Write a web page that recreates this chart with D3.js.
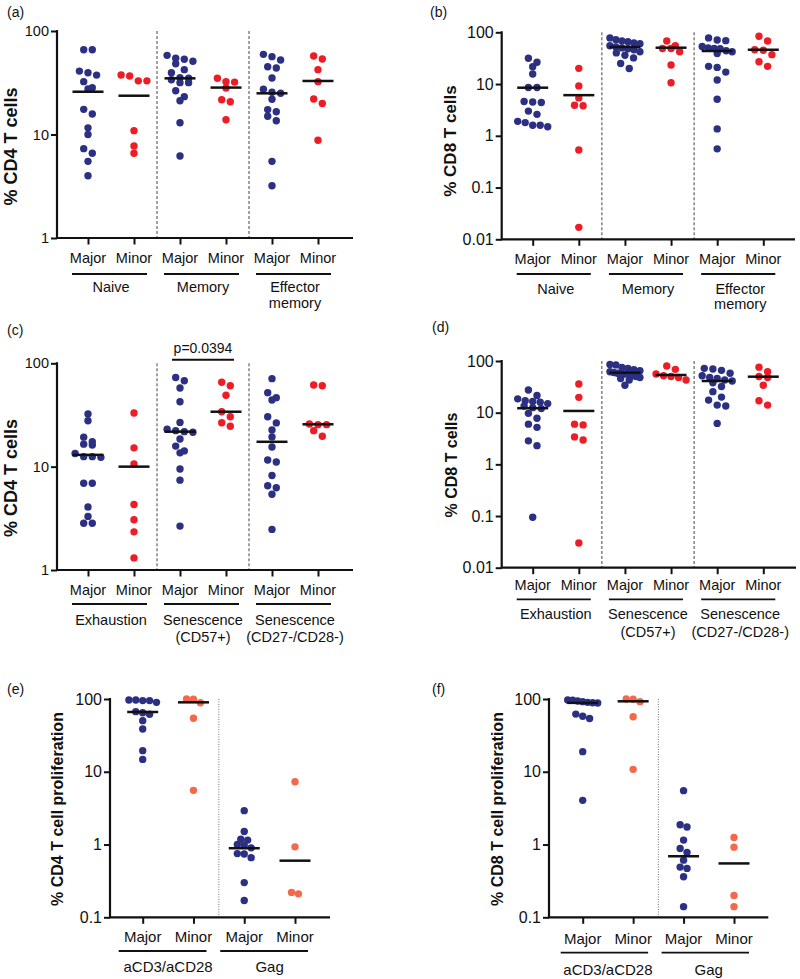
<!DOCTYPE html>
<html><head><meta charset="utf-8">
<script src="https://cdn.jsdelivr.net/npm/d3@7"></script>
<style>
body{margin:0;background:#fff}
svg{display:block}
text{font-family:"Liberation Sans",Arial,Helvetica,sans-serif;fill:#111}
</style>
</head><body>
<svg id="chart" width="800" height="979"></svg>
<script>
// ---------------- DATA ----------------
const subLabels = ["Major", "Minor"];
const groupsAB = [["Naive"], ["Memory"], ["Effector", "memory"]];
const groupsCD = [["Exhaustion"], ["Senescence", "(CD57+)"], ["Senescence", "(CD27-/CD28-)"]];
const groupsEF = [["aCD3/aCD28"], ["Gag"]];

// (a) % CD4 T cells
const a_points = [
  [66, 66, 41, 39.5, 37.5, 32.4, 28.3, 27.5, 17.5, 15.8, 11.6, 10.0, 7.3, 6.6, 5.5, 4.0],
  [37.6, 36.7, 33, 33, 10.9, 7.75, 6.6],
  [58.2, 54.5, 53.3, 51, 48.3, 42.3, 39.6, 35.4, 34.9, 33.8, 31.7, 31.7, 26.5, 23.2, 21.2, 13.0, 6.2],
  [34.9, 32.4, 32.1, 28.1, 21.7, 20.7, 13.9],
  [59.5, 56.5, 52.5, 45.2, 43.9, 35.2, 27.4, 25.6, 25.0, 21.9, 17.4, 16.6, 15.0, 13.6, 5.5, 3.2],
  [57.3, 53.6, 42.3, 32.4, 22, 19.9, 8.8]
];
const a_centre = [25.9, 23.7, 34.9, 28.4, 25.0, 32.9];

// (b) % CD8 T cells
const b_points = [
  [31.5, 26.3, 21.6, 15.6, 8.6, 8.6, 4.6, 4.5, 4.4, 3.0, 2.6, 1.9, 1.8, 1.6, 1.6, 1.5],
  [20.1, 9.2, 5.4, 3.9, 3.8, 0.53, 0.017],
  [78, 72, 68, 66, 62, 60, 55, 52, 50, 48, 46, 42, 40, 36, 32, 25, 20],
  [68, 55, 48.5, 48.5, 42, 23.3, 10.6],
  [78, 71, 69, 53, 50, 49, 48, 44, 42, 39, 22, 21, 17, 12, 5.1, 1.36, 0.56],
  [84, 68, 46, 45, 37, 27, 22]
];
const b_centre = [8.5, 6.1, 52, 50.4, 43.5, 46];

// (c) % CD4 T cells
const c_points = [
  [32.3, 27.8, 19.3, 17.4, 16.5, 16.2, 13.4, 12.5, 12.5, 12.3, 6.9, 6.9, 4.07, 3.3, 2.83, 2.83],
  [33, 15.2, 10.6, 4.3, 3.06, 2.34, 1.31],
  [73, 67.9, 57.6, 42.5, 26.8, 23, 22.3, 21.8, 21.5, 18.5, 15.8, 14.2, 13.6, 9.5, 7.4, 2.66],
  [65.5, 60.7, 49, 34, 30.4, 26.6, 24.6],
  [71, 52, 46.5, 44.2, 30.4, 26.5, 22.6, 19.4, 15.5, 11.6, 11.1, 8.2, 6.54, 6.24, 5.4, 2.47],
  [61.7, 60.7, 25.9, 25.5, 25.5, 22.3, 19.7]
];
const c_centre = [13.0, 10.0, 21.8, 34.0, 17.4, 25.7];

// (d) % CD8 T cells
const d_points = [
  [27.5, 21.5, 18.5, 17, 16.5, 16, 15, 13.5, 12.5, 12, 9.7, 7.8, 6.0, 5.2, 2.85, 2.3, 0.095],
  [35.9, 19.8, 6.0, 5.8, 3.4, 2.95, 0.030],
  [86, 84, 75, 72, 68, 65, 62, 60, 58, 58, 56, 55, 52, 50, 48, 46, 43, 34],
  [80, 69, 56, 52, 50, 48, 43],
  [72, 70, 66, 58, 52, 48, 46, 43, 41, 38, 32, 25.5, 20, 17.5, 14, 13.5, 6.2],
  [76, 62, 50, 48, 34, 17, 14]
];
const d_centre = [12.2, 10.8, 59.4, 53.6, 41, 49.7];

// (e) % CD4 T cell proliferation
const e_points = [
  [97, 97, 95, 95, 90, 67, 64.8, 61.6, 50.4, 38.7, 19.5, 14.8],
  [100, 99, 89, 54.3, 5.55],
  [2.92, 1.51, 1.18, 1.15, 1.0, 0.98, 0.9, 0.75, 0.74, 0.66, 0.30, 0.17],
  [7.3, 0.93, 0.22, 0.21]
];
const e_centre = [66.3, 90, 0.89, 0.60];

// (f) % CD8 T cell proliferation
const f_points = [
  [97, 96, 94, 92, 90, 89, 88, 62, 58, 54, 18.9, 4.05],
  [100, 99, 92, 57, 10.8],
  [5.5, 1.87, 1.74, 1.15, 0.88, 0.78, 0.61, 0.49, 0.47, 0.36, 0.14],
  [1.25, 0.92, 0.20, 0.14]
];
const f_centre = [88.5, 93, 0.69, 0.55];

const ticksAC = [1, 10, 100];
const ticksBD = [0.01, 0.1, 1, 10, 100];
const ticksEF = [0.1, 1, 10, 100];

// ---------------- LAYOUT ----------------
const NAVY = "#2c3082", RED = "#ee1c25", ORANGE = "#f26a4b";

const panels = [
  {label:"(a)", lx:7, ly:17, pts:a_points, ctr:a_centre, groups:groupsAB, ticks:ticksAC, title:"% CD4 T cells",
   x0:57, x1:353, xa:88, xb:318, yTop:31, yBot:238, tickFs:14.5, catFs:14.5, catY:258.3, ulY:274, ulPad:[16,13],
   grpY:287.3, grpLH:16, titleFs:18, titleX:11, titleY:146.5, minor:RED, sep:"dash"},
  {label:"(b)", lx:430, ly:17, pts:b_points, ctr:b_centre, groups:groupsAB, ticks:ticksBD, title:"% CD8 T cells",
   x0:501.7, x1:795, xa:532.7, xb:763.3, yTop:32.3, yBot:239.3, tickFs:16, catFs:14.5, catY:259.3, ulY:274, ulPad:[16,12],
   grpY:289, grpLH:15, titleFs:17, titleX:450, titleY:141, minor:RED, sep:"dash"},
  {label:"(c)", lx:7, ly:335, pts:c_points, ctr:c_centre, groups:groupsCD, ticks:ticksAC, title:"% CD4 T cells",
   x0:57, x1:353, xa:88, xb:318, yTop:363.3, yBot:570, tickFs:14.5, catFs:14.5, catY:590, ulY:604, ulPad:[16,13],
   grpY:620, grpLH:17, titleFs:18, titleX:11, titleY:478, minor:RED, sep:"dash", pval:"p=0.0394"},
  {label:"(d)", lx:432, ly:332, pts:d_points, ctr:d_centre, groups:groupsCD, ticks:ticksBD, title:"% CD8 T cells",
   x0:501.7, x1:796, xa:532.7, xb:763.3, yTop:361, yBot:567.7, tickFs:16, catFs:14.5, catY:585, ulY:599.3, ulPad:[16,12],
   grpY:614, grpLH:18, titleFs:16, titleX:451, titleY:465, minor:RED, sep:"dash"},
  {label:"(e)", lx:7, ly:694, pts:e_points, ctr:e_centre, groups:groupsEF, ticks:ticksEF, title:"% CD4 T cell proliferation",
   x0:110, x1:330, xa:142.7, xb:295, yTop:699, yBot:917.3, tickFs:16, catFs:15, catY:936.7, ulY:951, ulPad:[24,13],
   grpY:966.7, grpLH:16, titleFs:16, titleX:57, titleY:809, minor:ORANGE, sep:"dot"},
  {label:"(f)", lx:432, ly:694, pts:f_points, ctr:f_centre, groups:groupsEF, ticks:ticksEF, title:"% CD8 T cell proliferation",
   x0:549, x1:768.3, xa:582.7, xb:734, yTop:699, yBot:917.3, tickFs:16, catFs:15, catY:939, ulY:952.7, ulPad:[22,15],
   grpY:969.3, grpLH:16, titleFs:16, titleX:497, titleY:809, minor:ORANGE, sep:"dot"}
];

const svg = d3.select("#chart");

function swarm(vals, y, cx, thr, sp, maxW) {
  const items = vals.map(v => ({v, py: y(v)})).sort((a, b) => a.py - b.py);
  const rows = []; let cur = null;
  for (const it of items) {
    if (cur && it.py - cur[0].py < thr) cur.push(it);
    else { cur = [it]; rows.push(cur); }
  }
  rows.forEach(r => {
    const n = r.length;
    const s = n > 1 ? Math.min(sp, maxW / (n - 1)) : 0;
    r.forEach((it, i) => { it.px = cx + (i - (n - 1) / 2) * s; });
  });
  return items;
}

panels.forEach(p => {
  const g = svg.append("g");
  const n = p.pts.length;
  const x = d3.scalePoint().domain(d3.range(n)).range([p.xa, p.xb]);
  const y = d3.scaleLog().domain([p.ticks[0], p.ticks[p.ticks.length - 1]]).range([p.yBot, p.yTop]);

  g.append("text").attr("x", p.lx).attr("y", p.ly).attr("font-size", 14).text(p.label);

  const nG = p.groups.length;
  for (let gi = 1; gi < nG; gi++) {
    const sx = (x(2 * gi - 1) + x(2 * gi)) / 2;
    g.append("line").attr("x1", sx).attr("x2", sx).attr("y1", p.yTop).attr("y2", p.yBot)
      .attr("stroke", p.sep === "dash" ? "#444" : "#777")
      .attr("stroke-width", 1)
      .attr("stroke-dasharray", p.sep === "dash" ? "3,2" : "1,1.5");
  }

  const ya = g.append("g").attr("transform", `translate(${p.x0},0)`)
    .call(d3.axisLeft(y).tickValues(p.ticks).tickFormat(d => String(d)).tickSize(6).tickPadding(2).tickSizeOuter(0));
  ya.select(".domain").remove();
  ya.selectAll(".tick line").attr("stroke", "#111").attr("stroke-width", 2);
  ya.selectAll(".tick text").attr("font-size", p.tickFs).attr("fill", "#111")
    .style("font-family", '"Liberation Sans",Arial,sans-serif');

  const xa = g.append("g").attr("transform", `translate(0,${p.yBot})`)
    .call(d3.axisBottom(x).tickSize(6.5).tickFormat("").tickSizeOuter(0));
  xa.select(".domain").remove();
  xa.selectAll(".tick line").attr("stroke", "#111").attr("stroke-width", 2);

  g.append("path").attr("d", `M${p.x0},${p.yTop - 1}V${p.yBot}H${p.x1}`)
    .attr("fill", "none").attr("stroke", "#111").attr("stroke-width", 2.2);

  d3.range(n).forEach(i => {
    g.append("text").attr("x", x(i)).attr("y", p.catY).attr("dy", "0.35em")
      .attr("text-anchor", "middle").attr("font-size", p.catFs).text(subLabels[i % 2]);
  });

  p.groups.forEach((lines, gi) => {
    const xl = x(2 * gi) - p.ulPad[0], xr = x(2 * gi + 1) + p.ulPad[1];
    g.append("line").attr("x1", xl).attr("x2", xr).attr("y1", p.ulY).attr("y2", p.ulY)
      .attr("stroke", "#111").attr("stroke-width", 1.8);
    const cx = (x(2 * gi) + x(2 * gi + 1)) / 2;
    lines.forEach((t, k) => {
      g.append("text").attr("x", cx).attr("y", p.grpY + k * p.grpLH).attr("dy", "0.35em")
        .attr("text-anchor", "middle").attr("font-size", p.catFs).text(t);
    });
  });

  g.append("text").attr("transform", `translate(${p.titleX},${p.titleY}) rotate(-90)`)
    .attr("text-anchor", "middle").attr("dy", "0.35em").attr("font-size", p.titleFs)
    .attr("font-weight", "bold").text(p.title);

  const small = p.sep === "dot";
  p.pts.forEach((vals, i) => {
    const col = i % 2 === 0 ? NAVY : p.minor;
    const items = swarm(vals, y, x(i), small ? 5 : 6.5, small ? 6.9 : 8.6, 30);
    g.selectAll(null).data(items).enter().append("circle")
      .attr("cx", d => d.px).attr("cy", d => d.py).attr("r", 3.7).attr("fill", col);
  });

  p.ctr.forEach((v, i) => {
    g.append("line").attr("x1", x(i) - 15.5).attr("x2", x(i) + 15.5)
      .attr("y1", y(v)).attr("y2", y(v)).attr("stroke", "#111").attr("stroke-width", 2.5);
  });

  if (p.pval) {
    const xl = x(2) - 8, xr = x(3) + 8;
    g.append("line").attr("x1", xl).attr("x2", xr).attr("y1", p.yTop - 3.5).attr("y2", p.yTop - 3.5)
      .attr("stroke", "#111").attr("stroke-width", 2);
    g.append("text").attr("x", (x(2) + x(3)) / 2).attr("y", p.yTop - 15).attr("dy", "0.35em")
      .attr("text-anchor", "middle").attr("font-size", 14).text(p.pval);
  }
});
</script>
</body></html>
